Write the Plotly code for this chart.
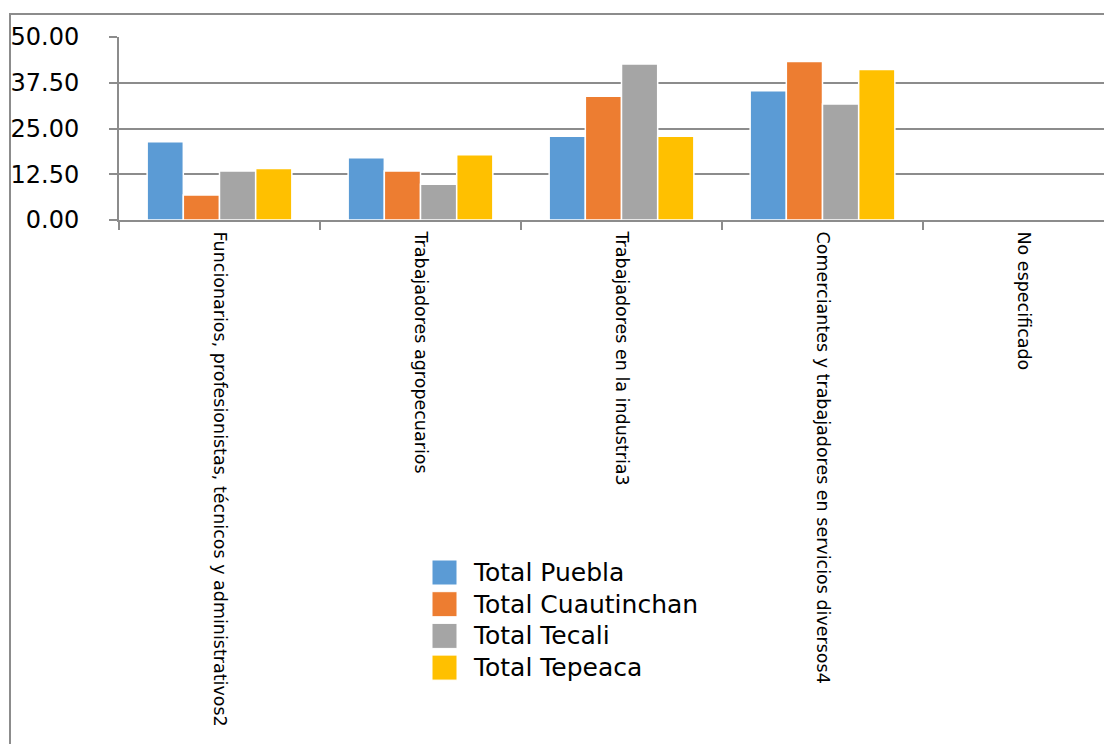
import plotly.graph_objects as go

categories = [
    "Funcionarios, profesionistas, técnicos y administrativos2",
    "Trabajadores agropecuarios",
    "Trabajadores en la industria3",
    "Comerciantes y trabajadores en servicios diversos4",
    "No especificado",
]
series_names = ["Total Puebla", "Total Cuautinchan", "Total Tecali", "Total Tepeaca"]
puebla = [21.4, 17.0, 22.9, 35.3, 0.1]
cuautinchan = [6.8, 13.4, 33.8, 43.3, 0.1]
tecali = [13.4, 9.8, 42.6, 31.7, 0.1]
tepeaca = [14.1, 17.8, 22.9, 41.1, 0.1]
colors = ["#5B9BD5", "#ED7D31", "#A5A5A5", "#FFC000"]
y_ticks = [0, 12.5, 25, 37.5, 50]

FONT = "DejaVu Sans"
W, H = 1112, 744
ML, MT, MB = 111, 29, 532
PW = W - ML
PH = H - MT - MB


def px(x):
    return (x - ML) / PW


def py(y):
    return (H - MB - y) / PH


fig = go.Figure()
for name, vals, col in zip(series_names, [puebla, cuautinchan, tecali, tepeaca], colors):
    fig.add_trace(go.Bar(
        x=categories, y=vals, name=name, showlegend=False,
        marker=dict(color=col, line=dict(color="white", width=1.5)),
    ))

shapes = [dict(
    type="rect", xref="paper", yref="paper",
    x0=px(2), x1=1.1, y0=-4, y1=py(6),
    line=dict(color="#8c8c8c", width=2), fillcolor="rgba(0,0,0,0)", layer="below",
)]
annotations = []
for i, (name, col) in enumerate(zip(series_names, colors)):
    top = 552 + 31.7 * i
    shapes.append(dict(
        type="rect", xref="paper", yref="paper",
        x0=px(424), x1=px(449), y0=py(top + 25), y1=py(top),
        line=dict(color="white", width=1), fillcolor=col,
    ))
    annotations.append(dict(
        xref="paper", yref="paper", x=px(463), y=py(top + 12.5),
        xanchor="left", yanchor="middle", showarrow=False, text=name,
        font=dict(family=FONT, size=25, color="black"),
    ))

fig.update_layout(
    width=W, height=H,
    margin=dict(l=ML, r=0, t=MT, b=MB),
    paper_bgcolor="white", plot_bgcolor="white",
    barmode="group", bargap=0.28, bargroupgap=0.0,
    font=dict(family=FONT, color="black"),
    showlegend=False,
    xaxis=dict(
        type="category", range=[-0.5, 4.48], tickson="boundaries",
        ticks="outside", ticklen=8, tickwidth=2, tickcolor="#8c8c8c",
        showline=True, linecolor="#8c8c8c", linewidth=2,
        showgrid=False, tickangle=90, ticklabelstandoff=6,
        tickfont=dict(family=FONT, size=17.5, color="black"),
    ),
    yaxis=dict(
        range=[0, 50], tickvals=y_ticks, tickformat=".2f",
        ticks="outside", ticklen=8, tickwidth=2, tickcolor="#8c8c8c",
        showline=True, linecolor="#8c8c8c", linewidth=2,
        showgrid=True, gridcolor="#8c8c8c", gridwidth=2,
        zeroline=False, ticklabelstandoff=25,
        tickfont=dict(family=FONT, size=24, color="black"),
    ),
    shapes=shapes,
    annotations=annotations,
)
fig.write_html("out.html")
